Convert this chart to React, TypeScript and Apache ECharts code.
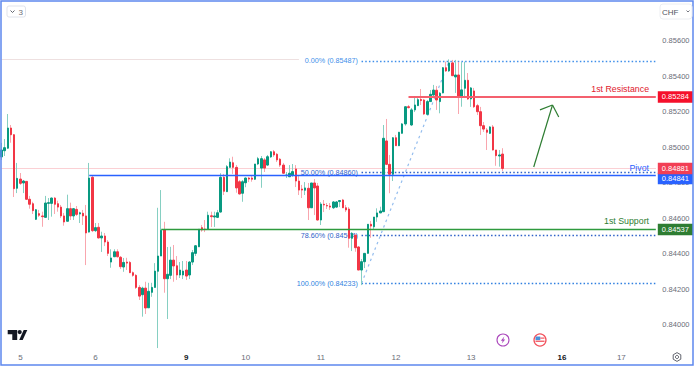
import React, { useEffect, useRef } from "react";
import * as echarts from "echarts";

const opens = [0.84946,0.84981,0.84995,0.85109,0.85071,0.84769,0.84821,0.84799,0.84808,0.84707,0.84682,0.84594,0.84626,0.84613,0.84605,0.84684,0.84684,0.84714,0.84682,0.84663,0.84613,0.84583,0.84654,0.84613,0.84650,0.84624,0.84628,0.84613,0.84522,0.84831,0.84530,0.84549,0.84489,0.84500,0.84466,0.84353,0.84383,0.84411,0.84380,0.84325,0.84353,0.84351,0.84293,0.84278,0.84210,0.84169,0.84206,0.84095,0.84182,0.84210,0.84301,0.84387,0.84534,0.84259,0.84278,0.84364,0.84332,0.84280,0.84280,0.84308,0.84280,0.84353,0.84402,0.84439,0.84547,0.84539,0.84538,0.84614,0.84607,0.84605,0.84635,0.84831,0.84750,0.84887,0.84913,0.84887,0.84806,0.84741,0.84800,0.84827,0.84827,0.84820,0.84906,0.84883,0.84929,0.84900,0.84946,0.84975,0.84961,0.84933,0.84900,0.84841,0.84834,0.84844,0.84878,0.84810,0.84765,0.84758,0.84769,0.84659,0.84799,0.84782,0.84590,0.84679,0.84672,0.84669,0.84659,0.84663,0.84694,0.84703,0.84659,0.84652,0.84487,0.84505,0.84438,0.84308,0.84355,0.84402,0.84566,0.84552,0.84607,0.84630,0.84637,0.85036,0.84904,0.84848,0.85054,0.85009,0.85079,0.85132,0.85229,0.85126,0.85211,0.85235,0.85270,0.85267,0.85186,0.85258,0.85295,0.85322,0.85258,0.85307,0.85449,0.85431,0.85476,0.85397,0.85408,0.85286,0.85333,0.85378,0.85273,0.85318,0.85235,0.85201,0.85122,0.85098,0.85079,0.85115,0.84985,0.84951,0.84962];
const highs = [0.85025,0.85047,0.85188,0.85126,0.85075,0.84912,0.84855,0.84816,0.84810,0.84726,0.84693,0.84652,0.84647,0.84637,0.84726,0.84714,0.84717,0.84720,0.84699,0.84675,0.84630,0.84733,0.84688,0.84658,0.84669,0.84637,0.84647,0.84675,0.84912,0.84838,0.84573,0.84573,0.84524,0.84517,0.84477,0.84425,0.84425,0.84425,0.84387,0.84376,0.84377,0.84359,0.84300,0.84285,0.84223,0.84214,0.84242,0.84236,0.84236,0.84347,0.84659,0.84759,0.84580,0.84438,0.84439,0.84449,0.84387,0.84353,0.84359,0.84359,0.84359,0.84421,0.84449,0.84539,0.84562,0.84590,0.84637,0.84637,0.84637,0.84647,0.84854,0.84850,0.84900,0.84938,0.84947,0.84900,0.84816,0.84816,0.84830,0.84833,0.84842,0.84906,0.84946,0.84951,0.84940,0.84957,0.84979,0.84985,0.84968,0.84940,0.84912,0.84861,0.84900,0.84906,0.84900,0.84838,0.84788,0.84804,0.84799,0.84799,0.84821,0.84799,0.84691,0.84703,0.84686,0.84686,0.84697,0.84697,0.84703,0.84709,0.84675,0.84663,0.84522,0.84506,0.84443,0.84370,0.84404,0.84567,0.84585,0.84607,0.84656,0.84665,0.85126,0.85160,0.84957,0.85058,0.85070,0.85087,0.85137,0.85230,0.85239,0.85222,0.85278,0.85284,0.85329,0.85273,0.85267,0.85323,0.85352,0.85346,0.85312,0.85453,0.85483,0.85496,0.85493,0.85493,0.85481,0.85481,0.85483,0.85419,0.85340,0.85335,0.85245,0.85228,0.85143,0.85109,0.85120,0.85126,0.84985,0.84985,0.84995];
const lows = [0.84929,0.84951,0.84991,0.85026,0.84720,0.84742,0.84788,0.84742,0.84703,0.84654,0.84624,0.84590,0.84607,0.84552,0.84605,0.84590,0.84609,0.84624,0.84637,0.84601,0.84558,0.84582,0.84590,0.84590,0.84613,0.84573,0.84562,0.84336,0.84520,0.84522,0.84522,0.84486,0.84410,0.84443,0.84387,0.84321,0.84381,0.84378,0.84314,0.84298,0.84308,0.84291,0.84270,0.84201,0.84139,0.84045,0.84060,0.84094,0.84157,0.84209,0.83868,0.84387,0.84180,0.84032,0.84257,0.84242,0.84252,0.84263,0.84257,0.84252,0.84257,0.84336,0.84387,0.84438,0.84524,0.84522,0.84537,0.84551,0.84551,0.84601,0.84632,0.84731,0.84748,0.84886,0.84850,0.84744,0.84734,0.84693,0.84775,0.84804,0.84806,0.84816,0.84900,0.84772,0.84861,0.84895,0.84940,0.84946,0.84917,0.84889,0.84850,0.84827,0.84833,0.84834,0.84776,0.84731,0.84714,0.84731,0.84590,0.84658,0.84618,0.84587,0.84562,0.84635,0.84652,0.84647,0.84652,0.84658,0.84663,0.84658,0.84635,0.84434,0.84415,0.84411,0.84308,0.84223,0.84319,0.84401,0.84490,0.84534,0.84580,0.84630,0.84635,0.84900,0.84741,0.84810,0.85008,0.85008,0.85078,0.85122,0.85219,0.85120,0.85199,0.85233,0.85239,0.85182,0.85182,0.85256,0.85290,0.85211,0.85192,0.85304,0.85425,0.85425,0.85402,0.85307,0.85188,0.85229,0.85278,0.85267,0.85228,0.85222,0.85182,0.85070,0.85087,0.84985,0.85075,0.84982,0.84896,0.84891,0.84866];
const closes = [0.84985,0.84998,0.85109,0.85071,0.84767,0.84825,0.84797,0.84810,0.84707,0.84679,0.84643,0.84648,0.84617,0.84609,0.84686,0.84688,0.84714,0.84679,0.84663,0.84613,0.84579,0.84654,0.84613,0.84654,0.84622,0.84631,0.84613,0.84517,0.84827,0.84530,0.84547,0.84489,0.84500,0.84466,0.84402,0.84376,0.84411,0.84383,0.84327,0.84351,0.84347,0.84293,0.84278,0.84210,0.84161,0.84206,0.84094,0.84188,0.84210,0.84302,0.84387,0.84532,0.84259,0.84284,0.84364,0.84331,0.84280,0.84308,0.84302,0.84274,0.84353,0.84406,0.84445,0.84538,0.84534,0.84536,0.84617,0.84609,0.84613,0.84631,0.84831,0.84752,0.84891,0.84917,0.84887,0.84771,0.84737,0.84806,0.84827,0.84821,0.84820,0.84906,0.84936,0.84936,0.84883,0.84947,0.84975,0.84957,0.84929,0.84900,0.84854,0.84844,0.84854,0.84863,0.84810,0.84759,0.84759,0.84771,0.84659,0.84799,0.84771,0.84590,0.84680,0.84675,0.84669,0.84663,0.84692,0.84692,0.84700,0.84659,0.84647,0.84487,0.84515,0.84434,0.84308,0.84355,0.84402,0.84566,0.84556,0.84607,0.84630,0.84641,0.85051,0.84904,0.84848,0.85054,0.85009,0.85085,0.85132,0.85229,0.85224,0.85211,0.85239,0.85269,0.85264,0.85188,0.85258,0.85299,0.85323,0.85267,0.85305,0.85449,0.85431,0.85476,0.85404,0.85408,0.85286,0.85324,0.85378,0.85273,0.85335,0.85229,0.85201,0.85122,0.85103,0.85085,0.85115,0.84985,0.84953,0.84957,0.84881];

const SLOTS = 210;
const dayLabels = ["5", "6", "9", "10", "11", "12", "13", "16", "17"];
const dayIndexes = [6, 30, 59, 78, 102, 126, 150, 179, 198];
const boldDays = ["9", "16"];
const yTicks = [0.84, 0.842, 0.844, 0.846, 0.848, 0.85, 0.852, 0.854, 0.856];

const fibLevels = [
  { text: "0.00% (0.85487)", value: 0.85487, color: "#3f8fea" },
  { text: "50.00% (0.84860)", value: 0.8486, color: "#2f62c8" },
  { text: "78.60% (0.84504)", value: 0.84504, color: "#2f62c8" },
  { text: "100.00% (0.84233)", value: 0.84233, color: "#2f7fe0" },
];
const lastPrice = 0.84881;
const highMark = 0.85497;
const resistance = 0.85284;
const pivot = 0.84841;
const support = 0.84537;

const FONT = "'Liberation Sans', Arial, sans-serif";
const GREEN = "#089981";
const RED = "#f23645";
const WICK_G = "#86cfc2";
const WICK_R = "#f9a6ae";

const logoPath = "M0 0H9.5V10H4.6V4.2H0Z M12 0A2.1 2.1 0 1 1 12 4.2A2.1 2.1 0 1 1 12 0Z M11.5 10L16 0H19.6L15 10Z";
echarts.graphic.registerShape("tvmark", echarts.graphic.extendPath(logoPath as any, {}) as any);

const flat = (from: number, value: number, color: string, width: number, type: any, tag?: any) => [
  {
    coord: [from, value],
    lineStyle: { color, width, type, opacity: 1 },
    label: tag
      ? {
          show: true,
          position: "end",
          distance: 2,
          formatter: () => value.toFixed(5),
          color: "#fff",
          fontFamily: FONT,
          fontSize: 7.5,
          backgroundColor: tag.bg,
          padding: [2, 4, 1.5, 4],
          offset: tag.offset || [0, 0],
        }
      : { show: false },
  },
  { coord: [SLOTS - 1, value] },
];

const seg = (a: number[], b: number[], color: string, width: number, type: any = "solid") => [
  { coord: a, lineStyle: { color, width, type, opacity: 1 }, label: { show: false } },
  { coord: b },
];

const note = (i: number, v: number, text: string, color: string, size: number, weight: any = "normal") => ({
  coord: [i, v],
  symbol: "circle",
  symbolSize: 1,
  itemStyle: { color: "rgba(0,0,0,0)" },
  label: {
    show: true,
    formatter: () => text,
    position: "left",
    distance: 0,
    color,
    fontFamily: FONT,
    fontSize: size,
    fontWeight: weight,
  },
});

export default function App() {
  const ref = useRef<HTMLDivElement>(null);
  useEffect(() => {
    const chart = echarts.init(ref.current!, undefined, { renderer: "svg" });
    const categories = Array.from({ length: SLOTS }, (_, i) => {
      const k = dayIndexes.indexOf(i);
      return k >= 0 ? dayLabels[k] : "";
    });
    const wickData = opens.map((o, i) => [o, closes[i], lows[i], highs[i]]);
    const bodyData = opens.map((o, i) => [o, closes[i], Math.min(o, closes[i]), Math.max(o, closes[i])]);

    chart.setOption({
      animation: false,
      backgroundColor: "#ffffff",
      grid: { left: -0.567, top: 3, width: 657.93, height: 347 },
      xAxis: {
        type: "category",
        data: categories,
        boundaryGap: true,
        axisLine: { show: false },
        axisTick: { show: false },
        splitLine: { show: false },
        axisLabel: {
          interval: (_: number, v: string) => v !== "",
          margin: 3,
          hideOverlap: false,
          formatter: (v: string) => (boldDays.includes(v) ? `{b|${v}}` : v),
          color: "#6a6d78",
          fontFamily: FONT,
          fontSize: 8,
          rich: { b: { color: "#131722", fontWeight: "bold", fontFamily: FONT, fontSize: 8 } },
        },
      },
      yAxis: {
        type: "value",
        position: "right",
        min: 0.83857,
        max: 0.85814,
        axisLine: { show: false },
        axisTick: { show: false },
        splitLine: { show: false },
        axisLabel: {
          customValues: yTicks,
          margin: 5,
          formatter: (v: number) => v.toFixed(5),
          color: "#6a6d78",
          fontFamily: FONT,
          fontSize: 7.5,
        },
      },
      series: [
        {
          type: "line",
          z: 1,
          data: [],
          markLine: {
            silent: true,
            z: 1,
            symbol: "none",
            animation: false,
            data: [
              [
                { coord: [0, highMark], lineStyle: { color: "#eee0e0", width: 1, type: "solid", opacity: 1 }, label: { show: false } },
                { coord: [95, highMark] },
              ],
              flat(0, lastPrice, "#fbd0d4", 1, "solid"),
              ...fibLevels.map((f) => flat(115, f.value, f.color, 1.3, [1.5, 2.2])),
              seg([115, fibLevels[3].value], [143, fibLevels[0].value], "#94bdee", 1.2, [2.5, 3.5]),
            ],
          },
          markPoint: {
            silent: true,
            z: 1,
            data: fibLevels.map((f) => note(114, f.value, f.text, f.color, 7.2)),
          },
        },
        {
          type: "candlestick",
          z: 2,
          barWidth: 1,
          data: wickData,
          itemStyle: { color: WICK_G, color0: WICK_R, borderColor: WICK_G, borderColor0: WICK_R, borderWidth: 1 },
        },
        {
          type: "candlestick",
          z: 3,
          barWidth: 2,
          data: bodyData,
          itemStyle: { color: GREEN, color0: RED, borderColor: GREEN, borderColor0: RED, borderWidth: 1 },
        },
        {
          type: "line",
          z: 5,
          data: [],
          markLine: {
            silent: true,
            z: 6,
            symbol: "none",
            animation: false,
            data: [
              flat(130, resistance, "#f4606e", 1.8, "solid", { bg: "#f5102b" }),
              flat(28, pivot, "#2962ff", 1.4, "solid", { bg: "#2962ff", offset: [0, 3] }),
              flat(51, support, "#2e9a3e", 1.4, "solid", { bg: "#2e7d32" }),
              flat(205, lastPrice, "#fbd0d4", 1, "solid", { bg: "#f23f55" }),
              seg([170, 0.84889], [176, 0.85239], "#2e7d32", 1.2),
              seg([172, 0.85211], [176, 0.85239], "#2e7d32", 1.2),
              seg([178, 0.85171], [176, 0.85239], "#2e7d32", 1.2),
            ],
          },
          markPoint: {
            silent: true,
            z: 6,
            data: [
              note(207, 0.85327, "1st Resistance", "#e0182d", 8.8),
              note(207, 0.84885, "Pivot", "#2962ff", 8.8),
              note(207, 0.84582, "1st Support", "#2e7d32", 8.8),
            ],
          },
        },
      ],
      graphic: [
        { type: "rect", z: 20, shape: { x: 1, y: 1, width: 692, height: 364 }, style: { fill: "none", stroke: "#5e88ee", lineWidth: 1.5 } },
        { type: "rect", z: 20, shape: { x: 7, y: 6, width: 18.5, height: 11, r: 2 }, style: { fill: "#fff", stroke: "#e0e3eb", lineWidth: 1 } },
        { type: "polyline", z: 21, shape: { points: [[10.5, 10.5], [12.5, 12.5], [14.5, 10.5]] }, style: { fill: "none", stroke: "#50535e", lineWidth: 0.9 } },
        { type: "text", z: 21, style: { x: 18.5, y: 8, text: "3", fill: "#6a6d78", font: `8px ${FONT}` } },
        { type: "rect", z: 20, shape: { x: 660, y: 4, width: 32, height: 15, r: 3 }, style: { fill: "#fff", stroke: "#eceef2", lineWidth: 1 } },
        { type: "text", z: 21, style: { x: 662, y: 8, text: "CHF", fill: "#50535e", font: `8px ${FONT}` } },
        { type: "polyline", z: 21, shape: { points: [[686.5, 10.5], [688, 12], [689.5, 10.5]] }, style: { fill: "none", stroke: "#50535e", lineWidth: 0.8 } },
        { type: "tvmark", z: 21, x: 7.7, y: 330, style: { fill: "#131722" } },
        { type: "circle", z: 21, shape: { cx: 503, cy: 340, r: 6 }, style: { fill: "#fff", stroke: "#ab47bc", lineWidth: 1.1 } },
        { type: "polygon", z: 22, shape: { points: [[504.3, 336.5], [500.8, 340.8], [502.7, 340.8], [501.8, 343.6], [505.2, 339.4], [503.3, 339.4]] }, style: { fill: "#ab47bc" } },
        { type: "circle", z: 21, shape: { cx: 540, cy: 340, r: 6 }, style: { fill: "#fff", stroke: "#f2545f", lineWidth: 1.3 } },
        { type: "rect", z: 22, shape: { x: 535.5, y: 336.5, width: 4.8, height: 3.6 }, style: { fill: "#4a90d9" } },
        { type: "rect", z: 22, shape: { x: 540.3, y: 337.5, width: 4.2, height: 1.2 }, style: { fill: "#f2545f" } },
        { type: "rect", z: 22, shape: { x: 535.5, y: 340.6, width: 9, height: 1.3 }, style: { fill: "#f2545f" } },
        { type: "circle", z: 21, shape: { cx: 677, cy: 357, r: 1.6 }, style: { fill: "none", stroke: "#50535e", lineWidth: 0.9 } },
        { type: "polygon", z: 21, shape: { points: [[677, 352.6], [680.8, 354.8], [680.8, 359.2], [677, 361.4], [673.2, 359.2], [673.2, 354.8]] }, style: { fill: "none", stroke: "#50535e", lineWidth: 0.9 } },
      ],
    });
    return () => chart.dispose();
  }, []);
  return <div ref={ref} style={{ position: "fixed", left: 0, top: 0, width: 696, height: 366, background: "#fff" }} />;
}
